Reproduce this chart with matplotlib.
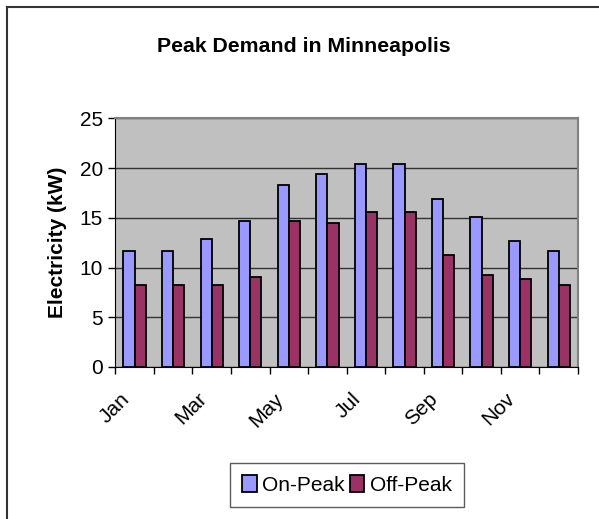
import numpy as np
import matplotlib.pyplot as plt
from matplotlib.lines import Line2D
from matplotlib.transforms import ScaledTranslation

plt.rcParams["font.family"] = ["Liberation Sans", "DejaVu Sans"]

months = ["Jan", "Feb", "Mar", "Apr", "May", "Jun",
          "Jul", "Aug", "Sep", "Oct", "Nov", "Dec"]
on_peak = [11.7, 11.7, 12.9, 14.7, 18.3, 19.4, 20.4, 20.4, 16.9, 15.1, 12.7, 11.7]
off_peak = [8.2, 8.2, 8.2, 9.1, 14.7, 14.5, 15.6, 15.6, 11.3, 9.3, 8.9, 8.2]

fig = plt.figure(figsize=(5.99, 5.19), dpi=100)
ax = fig.add_axes([0.1925, 0.2929, 0.7725, 0.4788])

x = np.arange(len(months))
w = 0.29
ax.bar(x - w / 2, on_peak, w, color="#9999FF", edgecolor="black", linewidth=1.3,
       label="On-Peak", zorder=3)
ax.bar(x + w / 2, off_peak, w, color="#993366", edgecolor="black", linewidth=1.3,
       label="Off-Peak", zorder=3)

ax.set_facecolor("#C0C0C0")
ax.set_xlim(-0.5, 11.5)
ax.set_ylim(0, 25)
ax.set_yticks([0, 5, 10, 15, 20, 25])
ax.yaxis.grid(True, color="#333333", linewidth=1.0, zorder=1)
ax.set_axisbelow(True)

# category boundary ticks, labels for every other month
ax.set_xticks(np.arange(-0.5, 12, 1.0))
ax.set_xticklabels([])
ax.set_xticks(x[::2], minor=True)
ax.set_xticklabels(months[::2], minor=True, rotation=45, ha="right",
                   va="center", rotation_mode="anchor", fontsize=15)
ax.tick_params(axis="x", which="minor", length=0, pad=21)
ax.tick_params(axis="x", which="major", direction="out", length=5, width=1)
ax.tick_params(axis="y", direction="out", length=5, width=1, labelsize=15, pad=4)
shift = ScaledTranslation(-8 / 100, 0, fig.dpi_scale_trans)
for lab in ax.get_xticklabels(minor=True):
    lab.set_transform(lab.get_transform() + shift)

for side in ["top", "right"]:
    ax.spines[side].set_color("#808080")
    ax.spines[side].set_linewidth(1.5)
ax.spines["left"].set_color("black")
ax.spines["bottom"].set_color("black")

ax.set_ylabel("Electricity (kW)", fontsize=15, fontweight="bold", labelpad=9)
fig.text(0.508, 0.911, "Peak Demand in Minneapolis", ha="center", va="center",
         fontsize=15.3, fontweight="bold")

leg = fig.legend(loc="center", bbox_to_anchor=(0.579, 0.0655), ncol=2,
                 fontsize=15, frameon=True, fancybox=False, handlelength=0.7,
                 handleheight=0.9, handletextpad=0.25, columnspacing=0.25,
                 borderpad=0.6, borderaxespad=0)
leg.get_frame().set_edgecolor("#333333")
leg.get_frame().set_linewidth(1.0)

# outer chart border (only top and left fall inside the image)
fig.add_artist(Line2D([6.5 / 599, 6.5 / 599], [0, 1 - 6.5 / 519],
                      transform=fig.transFigure, color="#333333", linewidth=1.5))
fig.add_artist(Line2D([6.5 / 599, 1], [1 - 6.5 / 519, 1 - 6.5 / 519],
                      transform=fig.transFigure, color="#333333", linewidth=1.5))

fig.savefig("out.png", dpi=100)
